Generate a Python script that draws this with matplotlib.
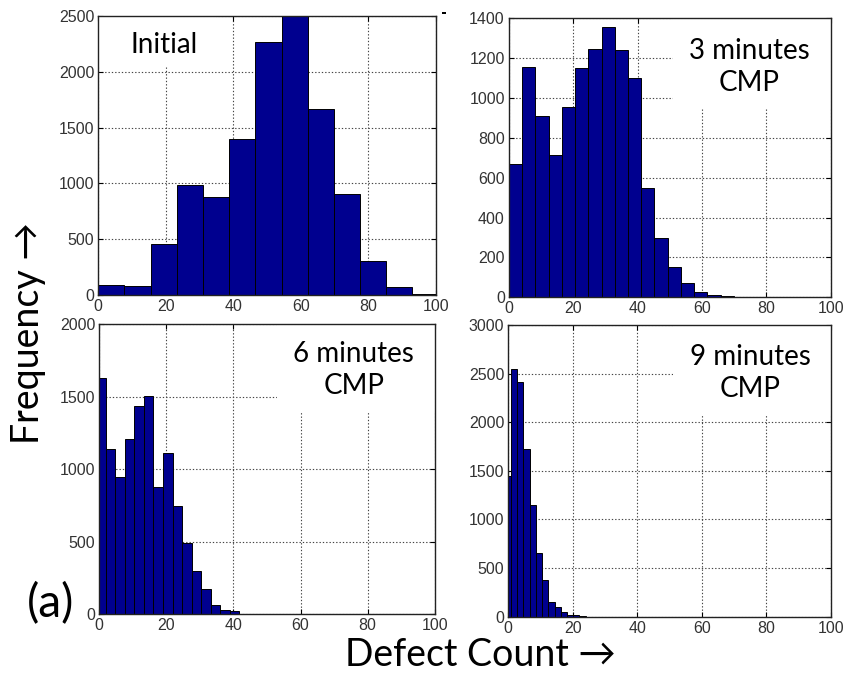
import numpy as np
import matplotlib
matplotlib.use("Agg")
import matplotlib.pyplot as plt
from matplotlib.patches import Rectangle

# Histogram counts per bin for each polishing stage
initial_counts = [90, 82, 456, 983, 882, 1394, 2265, 2500, 1663, 903, 304, 77, 12]
cmp3_counts = [669, 1157, 908, 714, 956, 1149, 1244, 1358, 1241, 1102, 550, 298, 150, 70, 27, 10, 5]
cmp6_counts = [1627, 1137, 944, 1210, 1436, 1507, 875, 1109, 746, 488, 297, 170, 64, 30, 23]
cmp9_counts = [1447, 2545, 2411, 1728, 1152, 658, 377, 154, 103, 51, 20, 14, 12]

# Bin layout: (first edge, bin width) in defect-count units
initial_bins = (0.0, 7.76)
cmp3_bins = (0.0, 4.11)
cmp6_bins = (-0.96, 2.85)
cmp9_bins = (-1.10, 1.93)

panel_labels = ["Initial", "3 minutes\nCMP", "6 minutes\nCMP", "9 minutes\nCMP"]
x_ticks = [0, 20, 40, 60, 80, 100]
y_ticks_list = [
    [0, 500, 1000, 1500, 2000, 2500],
    [0, 200, 400, 600, 800, 1000, 1200, 1400],
    [0, 500, 1000, 1500, 2000],
    [0, 500, 1000, 1500, 2000, 2500, 3000],
]

W, H = 847, 680
fig = plt.figure(figsize=(W / 100, H / 100), dpi=100)

def px_axes(left, top, right, bottom):
    return fig.add_axes([left / W, 1 - bottom / H, (right - left) / W, (bottom - top) / H])

axes = [
    px_axes(98.3, 15.7, 435.7, 295.3),
    px_axes(509.0, 18.3, 830.7, 297.3),
    px_axes(99.3, 324.3, 434.7, 614.0),
    px_axes(508.3, 325.0, 830.7, 616.7),
]

all_counts = [initial_counts, cmp3_counts, cmp6_counts, cmp9_counts]
all_bins = [initial_bins, cmp3_bins, cmp6_bins, cmp9_bins]

# Blank region behind each caption (x0, x1, lower y)
caption_boxes = [(0, 35, 2050), (51, 100, 950), (53, 100, 1397), (51, 100, 2075)]
caption_pos = [(0.195, 0.895), (0.746, 0.8265), (0.7585, 0.843), (0.75, 0.8365)]

label_font = ["Lato", "DejaVu Sans"]

for ax, counts, (start, width), label, yticks, box, pos in zip(
        axes, all_counts, all_bins, panel_labels, y_ticks_list, caption_boxes, caption_pos):
    counts = np.asarray(counts, dtype=float)
    edges = start + width * np.arange(len(counts) + 1)
    ax.bar(edges[:-1], counts, width=np.diff(edges), align="edge",
           color="#00008F", edgecolor="black", linewidth=0.7, zorder=1)
    ax.set_xlim(0, 100)
    ax.set_ylim(yticks[0], yticks[-1])
    ax.set_xticks(x_ticks)
    ax.set_yticks(yticks)
    ax.set_axisbelow(True)
    ax.grid(True, color="#444444", linestyle=(0, (1.2, 1.8)), linewidth=0.8)
    ax.tick_params(direction="in", length=3.5, width=0.8, top=True, right=True,
                   labelsize=11.5, labelcolor="#333333", pad=3)
    for lbl in ax.get_xticklabels() + ax.get_yticklabels():
        lbl.set_family("Liberation Sans")
    for sp in ax.spines.values():
        sp.set_linewidth(1.0)
        sp.set_color("#222222")
    x0, x1, y0 = box
    ax.add_patch(Rectangle((x0, y0), x1 - x0, yticks[-1] - y0, facecolor="white",
                           edgecolor="none", zorder=0.8))
    ax.text(pos[0], pos[1], label, transform=ax.transAxes, ha="center", va="center",
            fontsize=20, family=label_font, linespacing=1.3, zorder=3)

fig.text(28 / W, 1 - 333 / H, "Frequency \u2192", rotation=90, ha="center", va="center",
         fontsize=27, family=label_font)
fig.text(480 / W, 1 - 655 / H, "Defect Count \u2192", ha="center", va="center",
         fontsize=27, family=label_font)
fig.text(51 / W, 1 - 604 / H, "(a)", ha="center", va="center",
         fontsize=33, family=label_font)
fig.patches.append(Rectangle((441.7 / W, 1 - 14 / H), 4.3 / W, 2.3 / H,
                             transform=fig.transFigure, facecolor="black",
                             edgecolor="none"))

fig.savefig("out.png", dpi=100)
